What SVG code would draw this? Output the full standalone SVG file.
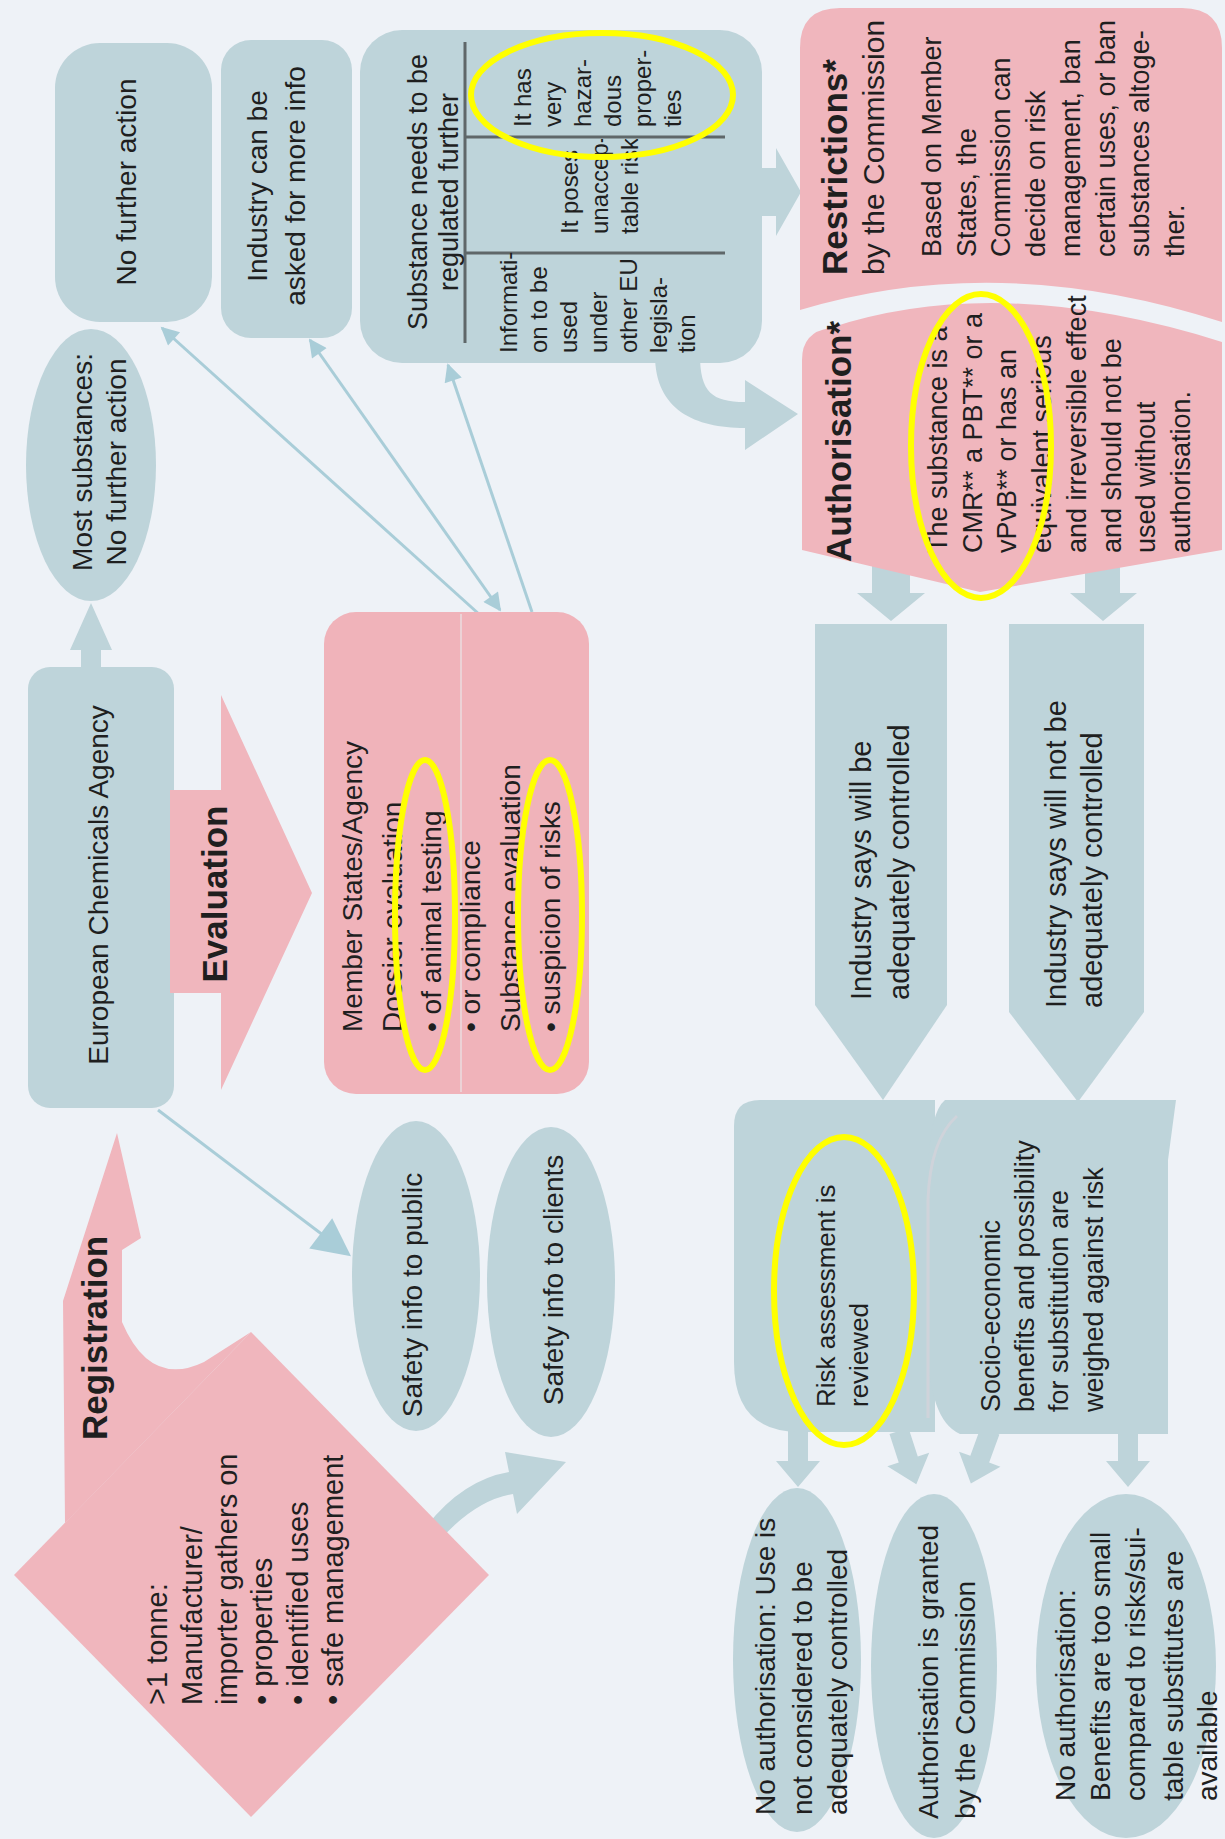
<svg xmlns="http://www.w3.org/2000/svg" width="1225" height="1839" viewBox="0 0 1225 1839">
<style>
text { font-family: "Liberation Sans", Arial, sans-serif; font-size: 28px; fill: #1f1f1f; }
.b { font-weight: bold; font-size: 35px; }
.s { font-size: 24px; }
.f27 { font-size: 27px; }
.f29 { font-size: 29px; }
.m { text-anchor: middle; }
.blue { fill: #bed4da; }
.pink { fill: #f0b6bd; }
.hl { fill: none; stroke: #ffff00; stroke-width: 6; }
.ln { stroke: #a9cdd8; stroke-width: 3; fill: none; }
.tbl { stroke: #5f6769; stroke-width: 3; fill: none; }
</style>
<defs>
<marker id="ah" viewBox="0 0 10 10" refX="9" refY="5" markerWidth="22" markerHeight="18" markerUnits="userSpaceOnUse" orient="auto-start-reverse"><path d="M0,0 L10,5 L0,10 Z" fill="#a9cdd8"/></marker>
<marker id="ahb" viewBox="0 0 10 10" refX="9" refY="5" markerWidth="44" markerHeight="38" markerUnits="userSpaceOnUse" orient="auto"><path d="M0,0 L10,5 L0,10 Z" fill="#a9cdd8"/></marker>
<path id="darr" d="M-10,0 L10,0 L10,30 L22,30 L0,56 L-22,30 L-10,30 Z"/>
<clipPath id="midcell"><rect x="466" y="139" width="300" height="113"/></clipPath>
</defs>
<rect width="1225" height="1839" fill="#eef2f7"/>

<g id="connectors">
<path class="ln" d="M480,615 L162,328" marker-end="url(#ah)"/>
<path class="ln" d="M310,340 L500,610" marker-start="url(#ah)" marker-end="url(#ah)"/>
<path class="ln" d="M532,612 L448,365" marker-end="url(#ah)"/>
<path class="ln" d="M158,1110 L348,1254" marker-end="url(#ahb)"/>
<polygon class="blue" points="81,668 81,650 70,650 91,603 112,650 101,650 101,668"/>
<polygon class="blue" points="872,560 910,560 910,593 925,593 891,621 857,593 872,593"/>
<polygon class="blue" points="1085,560 1120,560 1120,593 1137,593 1103,621 1070,593 1085,593"/>
<polygon class="blue" points="755,168 776,168 776,148 801,192 776,236 776,216 755,216"/>
<path class="blue" d="M655,355 C655,410 695,428 745,428 L745,450 L798,414 L745,380 L745,402 C712,402 700,392 700,355 Z"/>
<use href="#darr" class="blue" transform="translate(798,1431)"/>
<use href="#darr" class="blue" transform="translate(899,1431) rotate(-18)"/>
<use href="#darr" class="blue" transform="translate(990,1431) rotate(20)"/>
<use href="#darr" class="blue" transform="translate(1128,1431)"/>
<path class="blue" d="M438,1542 Q475,1500 513,1494 L517,1514 L566,1462 L505,1452 L509,1472 Q462,1480 425,1528 Z"/>
<path class="pink" d="M117,1133 L141,1238 L122,1250 L122,1322 Q150,1388 204,1362 L251,1332 L65,1523 L63,1301 Z"/>
</g>

<g id="no-further-action">
<rect class="blue" x="55" y="43" width="157" height="279" rx="45"/>
<text class="m" transform="translate(136,182) rotate(-90)">No further action</text>
</g>
<g id="industry-more-info">
<rect class="blue" x="221" y="40" width="131" height="298" rx="30"/>
<text class="m" transform="translate(267,186) rotate(-90)"><tspan x="0" y="0">Industry can be</tspan><tspan x="0" y="38">asked for more info</tspan></text>
</g>
<g id="most-substances">
<ellipse class="blue" cx="91" cy="465" rx="65" ry="136"/>
<text class="m" transform="translate(92,462) rotate(-90)"><tspan x="0" y="0">Most substances:</tspan><tspan x="0" y="34">No further action</tspan></text>
</g>
<g id="regulated-further">
<rect class="blue" x="360" y="30" width="402" height="333" rx="42"/>
<path class="tbl" d="M465,42 L465,343 M465,137 L725,137 M465,253 L725,253"/>
<text class="m f27" transform="translate(427,192) rotate(-90)"><tspan x="0" y="0">Substance needs to be</tspan><tspan x="0" y="31">regulated further</tspan></text>
<text class="s" transform="translate(531,127) rotate(-90)"><tspan x="0" y="0">It has</tspan><tspan x="0" y="30">very</tspan><tspan x="0" y="60">hazar-</tspan><tspan x="0" y="90">dous</tspan><tspan x="0" y="120">proper-</tspan><tspan x="0" y="150">ties</tspan></text>
<g clip-path="url(#midcell)"><text class="s" transform="translate(578,234) rotate(-90)"><tspan x="0" y="0">It poses</tspan><tspan x="0" y="30">unaccep-</tspan><tspan x="0" y="60">table risks</tspan></text></g>
<text class="s" transform="translate(517,353) rotate(-90)"><tspan x="0" y="0">Informati-</tspan><tspan x="0" y="30">on to be</tspan><tspan x="0" y="60">used</tspan><tspan x="0" y="90">under</tspan><tspan x="0" y="120">other EU</tspan><tspan x="0" y="150">legisla-</tspan><tspan x="0" y="178">tion</tspan></text>
</g>
<g id="restrictions">
<path class="pink" d="M840,8 L1182,8 Q1222,8 1222,48 L1222,322 Q1000,250 800,310 L800,48 Q800,8 840,8 Z"/>
<text class="b" transform="translate(847,275) rotate(-90)">Restrictions*</text>
<text style="font-size:30px" transform="translate(884,275) rotate(-90)">by the Commission</text>
<text class="f27" transform="translate(941,257) rotate(-90)"><tspan x="0" y="0">Based on Member</tspan><tspan x="0" y="35">States, the</tspan><tspan x="0" y="69">Commission can</tspan><tspan x="0" y="104">decide on risk</tspan><tspan x="0" y="139">management, ban</tspan><tspan x="0" y="174">certain uses, or ban</tspan><tspan x="0" y="208">substances altoge-</tspan><tspan x="0" y="243">ther.</tspan></text>
</g>
<g id="authorisation">
<path class="pink" d="M802,360 Q802,332 830,328 Q1000,272 1222,342 L1222,550 L980,592 L802,550 Z"/>
<text class="b" transform="translate(851,562) rotate(-90)">Authorisation*</text>
<text class="f27" transform="translate(947,553) rotate(-90)"><tspan x="0" y="0">The substance is a</tspan><tspan x="0" y="35">CMR** a PBT** or a</tspan><tspan x="0" y="69">vPvB** or has an</tspan><tspan x="0" y="104">equivalent serious</tspan><tspan x="0" y="139">and irreversible effect</tspan><tspan x="0" y="174">and should not be</tspan><tspan x="0" y="208">used without</tspan><tspan x="0" y="243">authorisation.</tspan></text>
</g>
<g id="echa">
<rect class="blue" x="28" y="667" width="146" height="441" rx="22"/>
<text class="m" transform="translate(108,885) rotate(-90)">European Chemicals Agency</text>
</g>
<g id="evaluation">
<polygon class="pink" points="170,790 221,790 221,695 312,893 221,1090 221,993 170,993"/>
<text class="b m" transform="translate(227,894) rotate(-90)">Evaluation</text>
</g>
<g id="member-states">
<rect x="324" y="612" width="265" height="482" rx="32" fill="#f0b3ba"/>
<line x1="461" y1="614" x2="461" y2="1092" stroke="#ecd2d6" stroke-width="2"/>
<text transform="translate(362,1032) rotate(-90)"><tspan x="0" y="0">Member States/Agency</tspan><tspan x="0" y="40">Dossier evaluation</tspan><tspan x="0" y="79">• of animal testing</tspan><tspan x="0" y="118">• or compliance</tspan><tspan x="0" y="158">Substance evaluation</tspan><tspan x="0" y="198">• suspicion of risks</tspan></text>
</g>
<g id="registration">
<polygon class="pink" points="14,1575 251,1332 489,1575 251,1817"/>
<text class="b" transform="translate(107,1440) rotate(-90)">Registration</text>
<text class="f29" transform="translate(167,1705) rotate(-90)"><tspan x="0" y="0">&gt;1 tonne:</tspan><tspan x="0" y="35">Manufacturer/</tspan><tspan x="0" y="70">importer gathers on</tspan><tspan x="0" y="105">• properties</tspan><tspan x="0" y="141">• identified uses</tspan><tspan x="0" y="176">• safe management</tspan></text>
</g>
<g id="safety-public">
<ellipse class="blue" cx="416" cy="1276" rx="64" ry="155"/>
<text class="m" transform="translate(422,1295) rotate(-90)">Safety info to public</text>
</g>
<g id="safety-clients">
<ellipse class="blue" cx="551" cy="1282" rx="64" ry="155"/>
<text class="m" transform="translate(563,1280) rotate(-90)">Safety info to clients</text>
</g>
<g id="will-be-controlled">
<polygon class="blue" points="815,624 947,624 947,1005 883,1100 815,1005"/>
<text class="f29" transform="translate(871,1000) rotate(-90)"><tspan x="0" y="0">Industry says will be</tspan><tspan x="0" y="38">adequately controlled</tspan></text>
</g>
<g id="will-not-be-controlled">
<polygon class="blue" points="1009,624 1144,624 1144,1012 1078,1102 1009,1012"/>
<text class="f29" transform="translate(1066,1008) rotate(-90)"><tspan x="0" y="0">Industry says will not be</tspan><tspan x="0" y="36">adequately controlled</tspan></text>
</g>
<g id="risk-assessment">
<path class="blue" d="M760,1100 L935,1100 L935,1432 L800,1432 Q734,1432 734,1362 L734,1126 Q734,1100 760,1100 Z"/>
<text style="font-size:26px" transform="translate(835,1407) rotate(-90)"><tspan x="0" y="0">Risk assessment is</tspan><tspan x="0" y="33">reviewed</tspan></text>
</g>
<g id="socio-economic">
<path class="blue" d="M945,1100 L1176,1100 L1168,1160 L1168,1434 L960,1434 Q928,1420 928,1340 L928,1170 Q930,1112 945,1100 Z"/>
<path d="M957,1116 Q930,1140 928,1200 L928,1418" fill="none" stroke="#cfd3da" stroke-width="3"/>
<text class="f27" transform="translate(1000,1412) rotate(-90)"><tspan x="0" y="0">Socio-economic</tspan><tspan x="0" y="34">benefits and possibility</tspan><tspan x="0" y="68">for substitution are</tspan><tspan x="0" y="103">weighed against risk</tspan></text>
</g>
<g id="no-auth-control">
<ellipse class="blue" cx="797" cy="1660" rx="64" ry="172"/>
<text transform="translate(775,1815) rotate(-90)"><tspan x="0" y="0">No authorisation: Use is</tspan><tspan x="0" y="37">not considered to be</tspan><tspan x="0" y="72">adequately controlled</tspan></text>
</g>
<g id="auth-granted">
<ellipse class="blue" cx="934" cy="1666" rx="63" ry="172"/>
<text transform="translate(938,1819) rotate(-90)"><tspan x="0" y="0">Authorisation is granted</tspan><tspan x="0" y="37">by the Commission</tspan></text>
</g>
<g id="no-auth-benefits">
<ellipse class="blue" cx="1126" cy="1666" rx="90" ry="172"/>
<text transform="translate(1075,1801) rotate(-90)"><tspan x="0" y="0">No authorisation:</tspan><tspan x="0" y="35">Benefits are too small</tspan><tspan x="0" y="70">compared to risks/sui-</tspan><tspan x="0" y="108">table substitutes are</tspan><tspan x="0" y="142">available</tspan></text>
</g>
<g id="highlights">
<ellipse class="hl" cx="602" cy="95" rx="131" ry="62"/>
<ellipse class="hl" cx="981" cy="446" rx="70" ry="152"/>
<ellipse class="hl" cx="425" cy="915" rx="30" ry="155"/>
<ellipse class="hl" cx="550" cy="915" rx="32" ry="155"/>
<ellipse class="hl" cx="844" cy="1291" rx="70" ry="154"/>
</g>
</svg>
